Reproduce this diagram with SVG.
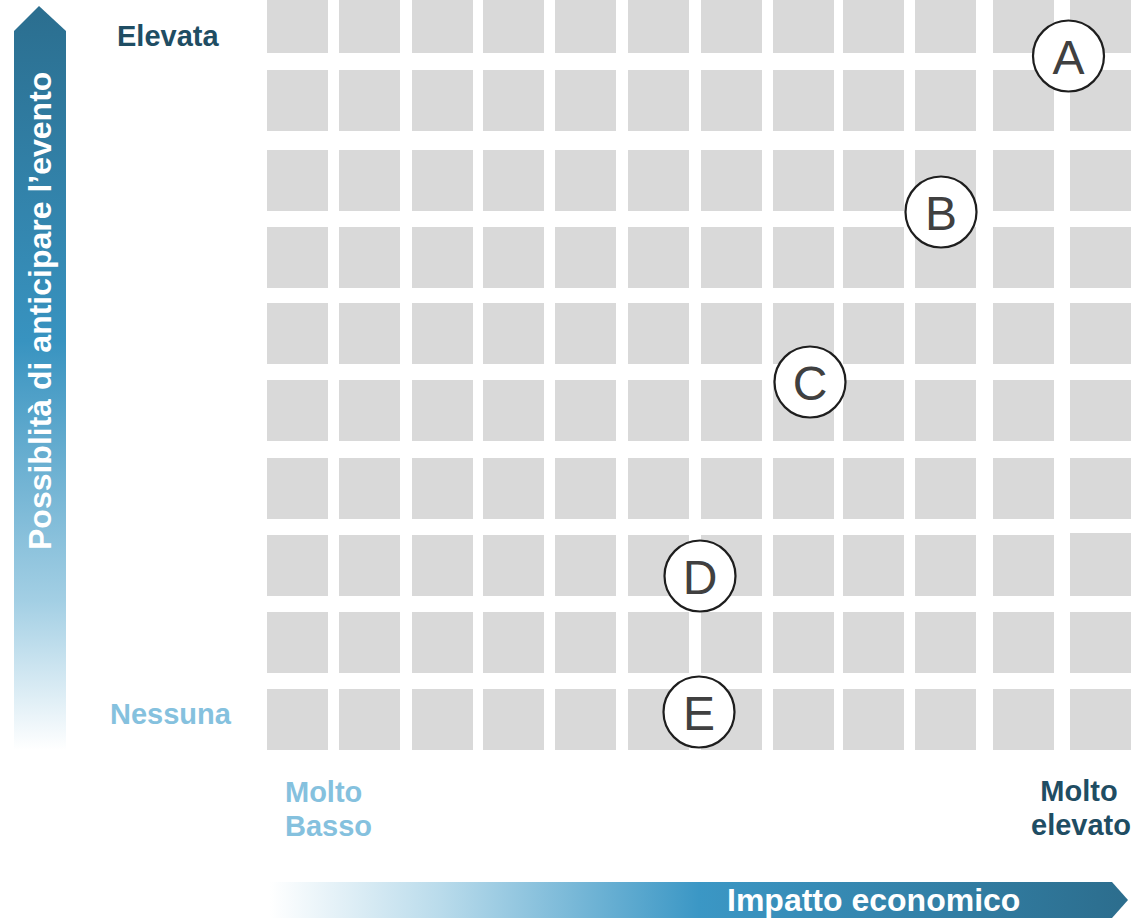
<svg xmlns="http://www.w3.org/2000/svg" width="1133" height="918" viewBox="0 0 1133 918">
<defs>
<linearGradient id="gv" x1="0" y1="0" x2="0" y2="1" gradientUnits="objectBoundingBox">
<stop offset="0" stop-color="#2b6e8f"/>
<stop offset="0.45" stop-color="#3893c0"/>
<stop offset="0.8" stop-color="#a3cfe4"/>
<stop offset="1" stop-color="#ffffff"/>
</linearGradient>
<linearGradient id="gh" x1="0" y1="0" x2="1" y2="0" gradientUnits="objectBoundingBox">
<stop offset="0" stop-color="#ffffff"/>
<stop offset="0.2" stop-color="#b9dbeb"/>
<stop offset="0.5" stop-color="#3b97c5"/>
<stop offset="1" stop-color="#2c6d8d"/>
</linearGradient>
<style>
.cell{fill:#d9d9d9}
.mk{fill:#ffffff;stroke:#1e1e1e;stroke-width:2.2}
.ml{font-family:"Liberation Sans",Arial,sans-serif;font-size:48px;fill:#404040;text-anchor:middle}
.lb{font-family:"Liberation Sans",Arial,sans-serif;font-weight:bold;font-size:29px}
.dark{fill:#1f4d63}
.light{fill:#85c1de}
.ax{font-family:"Liberation Sans",Arial,sans-serif;font-weight:bold;font-size:32px;fill:#ffffff}
</style>
</defs>
<g id="axes">
<polygon points="14,31 39,6 66,31 66,750 14,750" fill="url(#gv)"/>
<polygon points="270,882 1112,882 1128,900 1112,918 270,918" fill="url(#gh)"/>
<text class="ax" transform="translate(51,550) rotate(-90)">Possiblità di anticipare l’evento</text>
<text class="ax" x="727" y="911">Impatto economico</text>
</g>
<g id="labels">
<text class="lb dark" x="117" y="46">Elevata</text>
<text class="lb light" x="110" y="724">Nessuna</text>
<text class="lb light" x="285" y="802">Molto</text>
<text class="lb light" x="285" y="836">Basso</text>
<text class="lb dark" x="1079" y="801" text-anchor="middle">Molto</text>
<text class="lb dark" x="1081" y="835" text-anchor="middle">elevato</text>
</g>
<g id="grid">
<g id="row1">
<rect class="cell" x="267" y="-8" width="61" height="61"/><rect class="cell" x="339" y="-8" width="61" height="61"/><rect class="cell" x="412" y="-8" width="61" height="61"/><rect class="cell" x="483" y="-8" width="61" height="61"/><rect class="cell" x="555" y="-8" width="61" height="61"/><rect class="cell" x="628" y="-8" width="61" height="61"/><rect class="cell" x="701" y="-8" width="61" height="61"/><rect class="cell" x="773" y="-8" width="61" height="61"/><rect class="cell" x="843" y="-8" width="61" height="61"/><rect class="cell" x="915" y="-8" width="61" height="61"/><rect class="cell" x="993" y="-8" width="61" height="61"/><rect class="cell" x="1070" y="-8" width="61" height="61"/>
</g>
<g id="row2">
<rect class="cell" x="267" y="70" width="61" height="61"/><rect class="cell" x="339" y="70" width="61" height="61"/><rect class="cell" x="412" y="70" width="61" height="61"/><rect class="cell" x="483" y="70" width="61" height="61"/><rect class="cell" x="555" y="70" width="61" height="61"/><rect class="cell" x="628" y="70" width="61" height="61"/><rect class="cell" x="701" y="70" width="61" height="61"/><rect class="cell" x="773" y="70" width="61" height="61"/><rect class="cell" x="843" y="70" width="61" height="61"/><rect class="cell" x="915" y="70" width="61" height="61"/><rect class="cell" x="993" y="70" width="61" height="61"/><rect class="cell" x="1070" y="70" width="61" height="61"/>
</g>
<g id="row3">
<rect class="cell" x="267" y="150" width="61" height="61"/><rect class="cell" x="339" y="150" width="61" height="61"/><rect class="cell" x="412" y="150" width="61" height="61"/><rect class="cell" x="483" y="150" width="61" height="61"/><rect class="cell" x="555" y="150" width="61" height="61"/><rect class="cell" x="628" y="150" width="61" height="61"/><rect class="cell" x="701" y="150" width="61" height="61"/><rect class="cell" x="773" y="150" width="61" height="61"/><rect class="cell" x="843" y="150" width="61" height="61"/><rect class="cell" x="915" y="150" width="61" height="61"/><rect class="cell" x="993" y="150" width="61" height="61"/><rect class="cell" x="1070" y="150" width="61" height="61"/>
</g>
<g id="row4">
<rect class="cell" x="267" y="227" width="61" height="61"/><rect class="cell" x="339" y="227" width="61" height="61"/><rect class="cell" x="412" y="227" width="61" height="61"/><rect class="cell" x="483" y="227" width="61" height="61"/><rect class="cell" x="555" y="227" width="61" height="61"/><rect class="cell" x="628" y="227" width="61" height="61"/><rect class="cell" x="701" y="227" width="61" height="61"/><rect class="cell" x="773" y="227" width="61" height="61"/><rect class="cell" x="843" y="227" width="61" height="61"/><rect class="cell" x="915" y="227" width="61" height="61"/><rect class="cell" x="993" y="227" width="61" height="61"/><rect class="cell" x="1070" y="227" width="61" height="61"/>
</g>
<g id="row5">
<rect class="cell" x="267" y="303" width="61" height="61"/><rect class="cell" x="339" y="303" width="61" height="61"/><rect class="cell" x="412" y="303" width="61" height="61"/><rect class="cell" x="483" y="303" width="61" height="61"/><rect class="cell" x="555" y="303" width="61" height="61"/><rect class="cell" x="628" y="303" width="61" height="61"/><rect class="cell" x="701" y="303" width="61" height="61"/><rect class="cell" x="773" y="303" width="61" height="61"/><rect class="cell" x="843" y="303" width="61" height="61"/><rect class="cell" x="915" y="303" width="61" height="61"/><rect class="cell" x="993" y="303" width="61" height="61"/><rect class="cell" x="1070" y="303" width="61" height="61"/>
</g>
<g id="row6">
<rect class="cell" x="267" y="380" width="61" height="61"/><rect class="cell" x="339" y="380" width="61" height="61"/><rect class="cell" x="412" y="380" width="61" height="61"/><rect class="cell" x="483" y="380" width="61" height="61"/><rect class="cell" x="555" y="380" width="61" height="61"/><rect class="cell" x="628" y="380" width="61" height="61"/><rect class="cell" x="701" y="380" width="61" height="61"/><rect class="cell" x="773" y="380" width="61" height="61"/><rect class="cell" x="843" y="380" width="61" height="61"/><rect class="cell" x="915" y="380" width="61" height="61"/><rect class="cell" x="993" y="380" width="61" height="61"/><rect class="cell" x="1070" y="380" width="61" height="61"/>
</g>
<g id="row7">
<rect class="cell" x="267" y="458" width="61" height="61"/><rect class="cell" x="339" y="458" width="61" height="61"/><rect class="cell" x="412" y="458" width="61" height="61"/><rect class="cell" x="483" y="458" width="61" height="61"/><rect class="cell" x="555" y="458" width="61" height="61"/><rect class="cell" x="628" y="458" width="61" height="61"/><rect class="cell" x="701" y="458" width="61" height="61"/><rect class="cell" x="773" y="458" width="61" height="61"/><rect class="cell" x="843" y="458" width="61" height="61"/><rect class="cell" x="915" y="458" width="61" height="61"/><rect class="cell" x="993" y="458" width="61" height="61"/><rect class="cell" x="1070" y="458" width="61" height="61"/>
</g>
<g id="row8">
<rect class="cell" x="267" y="535" width="61" height="61"/><rect class="cell" x="339" y="535" width="61" height="61"/><rect class="cell" x="412" y="535" width="61" height="61"/><rect class="cell" x="483" y="535" width="61" height="61"/><rect class="cell" x="555" y="535" width="61" height="61"/><rect class="cell" x="628" y="535" width="61" height="61"/><rect class="cell" x="701" y="535" width="61" height="61"/><rect class="cell" x="773" y="535" width="61" height="61"/><rect class="cell" x="843" y="535" width="61" height="61"/><rect class="cell" x="915" y="535" width="61" height="61"/><rect class="cell" x="993" y="535" width="61" height="61"/><rect class="cell" x="1070" y="533" width="61" height="63"/>
</g>
<g id="row9">
<rect class="cell" x="267" y="612" width="61" height="61"/><rect class="cell" x="339" y="612" width="61" height="61"/><rect class="cell" x="412" y="612" width="61" height="61"/><rect class="cell" x="483" y="612" width="61" height="61"/><rect class="cell" x="555" y="612" width="61" height="61"/><rect class="cell" x="628" y="612" width="61" height="61"/><rect class="cell" x="701" y="612" width="61" height="61"/><rect class="cell" x="773" y="612" width="61" height="61"/><rect class="cell" x="843" y="612" width="61" height="61"/><rect class="cell" x="915" y="612" width="61" height="61"/><rect class="cell" x="993" y="612" width="61" height="61"/><rect class="cell" x="1070" y="612" width="61" height="61"/>
</g>
<g id="row10">
<rect class="cell" x="267" y="689" width="61" height="61"/><rect class="cell" x="339" y="689" width="61" height="61"/><rect class="cell" x="412" y="689" width="61" height="61"/><rect class="cell" x="483" y="689" width="61" height="61"/><rect class="cell" x="555" y="689" width="61" height="61"/><rect class="cell" x="628" y="689" width="61" height="61"/><rect class="cell" x="701" y="689" width="61" height="61"/><rect class="cell" x="773" y="689" width="61" height="61"/><rect class="cell" x="843" y="689" width="61" height="61"/><rect class="cell" x="915" y="689" width="61" height="61"/><rect class="cell" x="993" y="689" width="61" height="61"/><rect class="cell" x="1070" y="689" width="61" height="61"/>
</g>
</g>
<g id="connectors"></g>
<g id="nodeA"><circle class="mk" cx="1068.5" cy="56" r="35.5"/><text class="ml" x="1068.5" y="73.5">A</text></g>
<g id="nodeB"><circle class="mk" cx="941" cy="212" r="35.5"/><text class="ml" x="941" y="229.5">B</text></g>
<g id="nodeC"><circle class="mk" cx="810" cy="382" r="35.5"/><text class="ml" x="810" y="399.5">C</text></g>
<g id="nodeD"><circle class="mk" cx="700" cy="576" r="35.5"/><text class="ml" x="700" y="593.5">D</text></g>
<g id="nodeE"><circle class="mk" cx="699" cy="712" r="35.5"/><text class="ml" x="699" y="729.5">E</text></g>
</svg>
